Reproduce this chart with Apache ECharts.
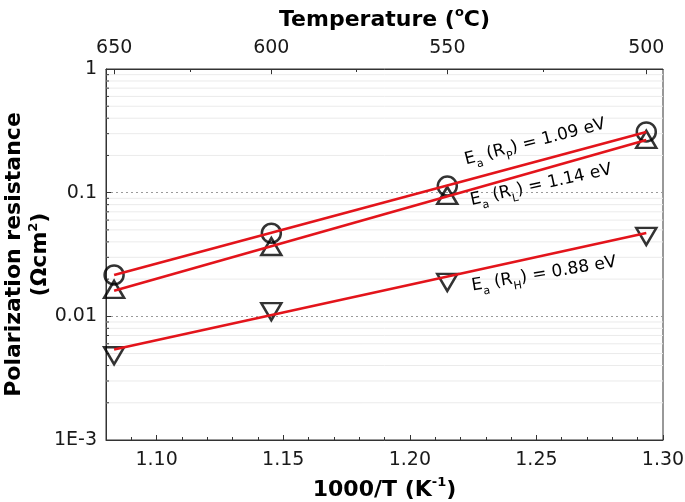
<!DOCTYPE html>
<html>
<head>
<meta charset="utf-8">
<script src="https://cdn.jsdelivr.net/npm/echarts@6/dist/echarts.min.js"></script>
<style>
  html, body { margin: 0; padding: 0; background: #fff; }
  #chart { width: 685px; height: 502px; }
</style>
</head>
<body>
<div id="chart"></div>
<script>
// ---------- data ----------
// reciprocal temperature of the four measurements (650, 600, 550, 500 °C)
const xPts = [1.0832, 1.1453, 1.2148, 1.2934];
// polarization resistances (Ω cm²)
const rP = [0.0216, 0.047, 0.113, 0.31];   // circles
const rL = [0.0165, 0.0367, 0.095, 0.27];  // up triangles
const rH = [0.0048, 0.0109, 0.0188, 0.0443]; // down triangles
// Arrhenius fit lines (end points)
const fitX = [1.0832, 1.2934];
const fitP = [0.0216, 0.31];
const fitL = [0.0161, 0.267];
const fitH = [0.0054, 0.0472];

// ---------- axes / ticks ----------
const X_MIN = 1.08, X_MAX = 1.30;
const xMajorTicks = [1.10, 1.15, 1.20, 1.25, 1.30];
const xMinorTicks = [1.09, 1.10, 1.11, 1.12, 1.13, 1.14, 1.15, 1.16, 1.17, 1.18, 1.19,
                     1.20, 1.21, 1.22, 1.23, 1.24, 1.25, 1.26, 1.27, 1.28, 1.29];
const tempMajor = [650, 600, 550, 500];
const tempMinor = [625, 575, 525];
const Y_MIN = 0.001, Y_MAX = 1;
const yTickValues = [0.001, 0.01, 0.1, 1];
const yTickLabels = ['1E-3', '0.01', '0.1', '1'];
const yMinorTicks = [0.002, 0.003, 0.004, 0.005, 0.006, 0.007, 0.008, 0.009,
                     0.02, 0.03, 0.04, 0.05, 0.06, 0.07, 0.08, 0.09,
                     0.2, 0.3, 0.4, 0.5, 0.6, 0.7, 0.8, 0.9];
const annotations = [
  { label: 'P', value: '1.09' },
  { label: 'L', value: '1.14' },
  { label: 'H', value: '0.88' }
];

const FONT = 'DejaVu Sans';
const toInv = t => 1000 / (t + 273.15);
const pairs = (xs, ys) => xs.map((x, i) => [x, ys[i]]);

const chart = echarts.init(document.getElementById('chart'), null, { renderer: 'canvas' });

const titleRich = {
  b: { fontFamily: FONT, fontSize: 22, fontWeight: 'bold', color: '#000', lineHeight: 28 },
  sup: { fontFamily: FONT, fontSize: 13, fontWeight: 'bold', color: '#000', verticalAlign: 'top' }
};
const yTitleRich = {
  b: { fontFamily: FONT, fontSize: 22, fontWeight: 'bold', color: '#000', lineHeight: 26 },
  sup: { fontFamily: FONT, fontSize: 13, fontWeight: 'bold', color: '#000', verticalAlign: 'top' }
};
const annRich = {
  n: { fontFamily: FONT, fontSize: 17, color: '#111', lineHeight: 26 },
  s: { fontFamily: FONT, fontSize: 11, color: '#111', verticalAlign: 'bottom' }
};
const annPos = [
  { x: 535, y: 142, rot: 14.5 },
  { x: 541, y: 185, rot: 12.5 },
  { x: 544, y: 274, rot: 9.5 }
];

const option = {
  animation: false,
  backgroundColor: '#fff',
  grid: {
    left: 106, right: 22, top: 69, bottom: 62,
    containLabel: false, outerBoundsMode: 'none',
    show: true, borderColor: '#333', borderWidth: 1, backgroundColor: 'transparent'
  },
  xAxis: [
    {
      type: 'value', position: 'bottom', min: X_MIN, max: X_MAX,
      name: '{b|1000/T (K}{sup|-1}{b|)}', nameLocation: 'middle', nameGap: 36, nameMoveOverlap: false,
      nameTextStyle: { rich: titleRich },
      axisLine: { show: true, lineStyle: { color: '#333', width: 1 } },
      axisTick: { show: true, inside: true, length: 3, customValues: xMinorTicks, lineStyle: { color: '#333' } },
      axisLabel: { show: true, customValues: xMajorTicks, margin: 11, fontFamily: FONT, fontSize: 19, color: '#1a1a1a',
                   formatter: v => v.toFixed(2) },
      splitLine: { show: false }
    },
    {
      type: 'value', position: 'bottom', min: X_MIN, max: X_MAX,
      axisLine: { show: false },
      axisTick: { show: true, inside: true, length: 5, customValues: xMajorTicks, lineStyle: { color: '#333' } },
      axisLabel: { show: false },
      splitLine: { show: false }
    },
    {
      type: 'value', position: 'top', min: X_MIN, max: X_MAX,
      name: '{b|Temperature (}{sup|o}{b|C)}', nameLocation: 'middle', nameGap: 35, nameMoveOverlap: false,
      nameTextStyle: { rich: titleRich },
      axisLine: { show: true, lineStyle: { color: '#333', width: 1 } },
      axisTick: { show: true, inside: true, length: 6, customValues: tempMajor.map(toInv), lineStyle: { color: '#333' } },
      axisLabel: { show: true, customValues: tempMajor.map(toInv), margin: 11, fontFamily: FONT, fontSize: 19, color: '#1a1a1a',
                   formatter: v => String(Math.round(1000 / v - 273.15)) },
      splitLine: { show: false }
    },
    {
      type: 'value', position: 'top', min: X_MIN, max: X_MAX,
      axisLine: { show: false },
      axisTick: { show: true, inside: true, length: 3, customValues: tempMinor.map(toInv), lineStyle: { color: '#333' } },
      axisLabel: { show: false },
      splitLine: { show: false }
    }
  ],
  yAxis: [
    {
      type: 'log', logBase: 10, min: Y_MIN, max: Y_MAX, position: 'left',
      name: '{b|Polarization resistance}\n{b|(Ωcm}{sup|2}{b|)}',
      nameLocation: 'middle', nameGap: 53, nameMoveOverlap: false,
      nameTextStyle: { rich: yTitleRich, align: 'center' },
      axisLine: { show: true, lineStyle: { color: '#333', width: 1 } },
      axisTick: { show: true, inside: true, length: 5, lineStyle: { color: '#333' } },
      axisLabel: {
        show: true, margin: 9, fontFamily: FONT, fontSize: 19, color: '#1a1a1a',
        formatter: v => {
          const e = Math.round(Math.log10(v));
          const i = yTickValues.findIndex(t => Math.round(Math.log10(t)) === e);
          return i >= 0 ? yTickLabels[i] : '';
        }
      },
      splitLine: { show: true, lineStyle: { type: [2, 3], color: '#9a9a9a', width: 1 } },
      minorTick: { show: false },
      minorSplitLine: { show: false }
    }
  ],
  series: [
    {
      type: 'custom', name: 'minor', xAxisIndex: 0, yAxisIndex: 0, z: 1, silent: true,
      data: yMinorTicks.map(v => [X_MIN, v]),
      encode: { x: 0, y: 1 },
      renderItem: (params, api) => {
        const p = api.coord([api.value(0), api.value(1)]);
        const cs = params.coordSys;
        return {
          type: 'group',
          children: [
            { type: 'line', shape: { x1: cs.x, y1: p[1], x2: cs.x + cs.width, y2: p[1] },
              style: { stroke: '#ebebeb', lineWidth: 1 } },
            { type: 'line', shape: { x1: cs.x, y1: p[1], x2: cs.x + 3, y2: p[1] },
              style: { stroke: '#333', lineWidth: 1 } }
          ]
        };
      }
    },
    {
      type: 'scatter', name: 'RP', xAxisIndex: 0, yAxisIndex: 0, z: 3,
      data: pairs(xPts, rP), symbol: 'circle', symbolSize: 19,
      itemStyle: { color: 'rgba(0,0,0,0)', borderColor: '#000', borderWidth: 2.5 }
    },
    {
      type: 'scatter', name: 'RL', xAxisIndex: 0, yAxisIndex: 0, z: 3,
      data: pairs(xPts, rL), symbol: 'triangle', symbolSize: [20, 17],
      itemStyle: { color: 'rgba(0,0,0,0)', borderColor: '#000', borderWidth: 2.5 }
    },
    {
      type: 'scatter', name: 'RH', xAxisIndex: 0, yAxisIndex: 0, z: 3,
      data: pairs(xPts, rH), symbol: 'triangle', symbolRotate: 180, symbolSize: [20, 17],
      itemStyle: { color: 'rgba(0,0,0,0)', borderColor: '#000', borderWidth: 2.5 }
    },
    {
      type: 'line', name: 'fitP', xAxisIndex: 0, yAxisIndex: 0, z: 5,
      data: pairs(fitX, fitP), showSymbol: false, symbol: 'none',
      lineStyle: { color: '#e3141b', width: 2.6 }
    },
    {
      type: 'line', name: 'fitL', xAxisIndex: 0, yAxisIndex: 0, z: 5,
      data: pairs(fitX, fitL), showSymbol: false, symbol: 'none',
      lineStyle: { color: '#e3141b', width: 2.6 }
    },
    {
      type: 'line', name: 'fitH', xAxisIndex: 0, yAxisIndex: 0, z: 5,
      data: pairs(fitX, fitH), showSymbol: false, symbol: 'none',
      lineStyle: { color: '#e3141b', width: 2.6 }
    }
  ],
  graphic: annotations.map((a, i) => ({
    type: 'text',
    x: annPos[i].x, y: annPos[i].y,
    rotation: annPos[i].rot * Math.PI / 180,
    z: 10,
    style: {
      text: '{n|E}{s|a}{n| (R}{s|' + a.label + '}{n|) = ' + a.value + ' eV}',
      rich: annRich,
      align: 'center',
      verticalAlign: 'middle'
    }
  }))
};

chart.setOption(option);
</script>
</body>
</html>
